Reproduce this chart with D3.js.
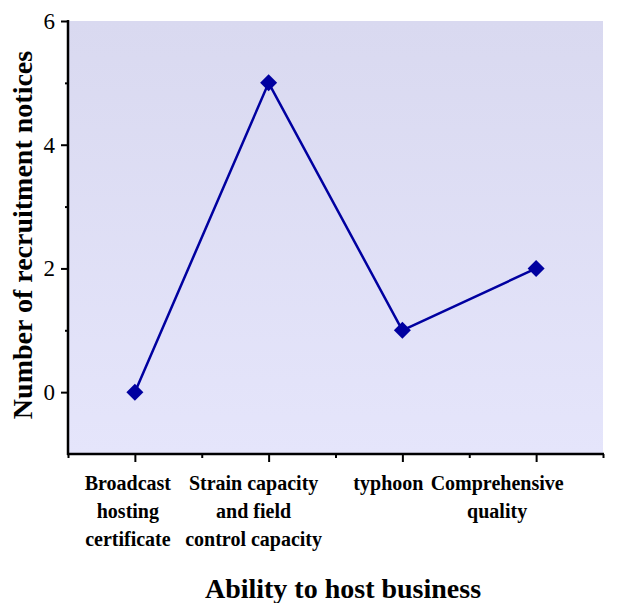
<!DOCTYPE html>
<html>
<head>
<meta charset="utf-8">
<script src="https://cdn.jsdelivr.net/npm/d3@7"></script>
<style>
  body { margin: 0; background: #fff; }
  text { font-family: "Liberation Serif", "Times New Roman", serif; }
</style>
</head>
<body>
<svg id="myChart" width="620" height="603"></svg>
<script>
// Chart data
const categories = [
	['Broadcast', 'hosting', 'certificate'],
	['Strain capacity', 'and field', 'control capacity'],
	['typhoon'],
	['Comprehensive', 'quality']
];
const values = [0, 5, 1, 2];
const yTicks = [0, 2, 4, 6];

const svg = d3.select('#myChart');

// Plot area
const plotLeft = 68, plotRight = 603, plotTop = 21, plotBottom = 454;

const xScale = d3.scaleLinear()
	.domain([0.5, 4.5])
	.range([plotLeft, plotRight]);

const yScale = d3.scaleLinear()
	.domain([-1, 6])
	.range([plotBottom, plotTop]);

// Background gradient
const grad = svg.append('defs').append('linearGradient')
	.attr('id', 'bg')
	.attr('x1', 0).attr('y1', 0).attr('x2', 0).attr('y2', 1);
grad.append('stop').attr('offset', '0%').attr('stop-color', '#d9d9f0');
grad.append('stop').attr('offset', '100%').attr('stop-color', '#e5e5fb');

svg.append('rect')
	.attr('x', plotLeft)
	.attr('y', plotTop)
	.attr('width', plotRight - plotLeft)
	.attr('height', plotBottom - plotTop)
	.attr('fill', 'url(#bg)');

// y axis - major ticks with labels, minor ones without
const yAxis = svg.append('g')
	.attr('class', 'axis axis-y')
	.attr('transform', `translate(${plotLeft},0)`)
	.call(d3.axisLeft(yScale).tickValues(yTicks).tickFormat(d3.format('d')).tickSize(7).tickPadding(6).tickSizeOuter(0));
yAxis.select('.domain').remove();
yAxis.selectAll('text').style('font-size', '23px').attr('fill', '#000');
yAxis.selectAll('line').attr('stroke-width', 2);

svg.append('g')
	.attr('transform', `translate(${plotLeft},0)`)
	.call(d3.axisLeft(yScale).tickValues([1, 3, 5]).tickSize(3).tickFormat('').tickSizeOuter(0))
	.call(g => g.select('.domain').remove())
	.selectAll('line').attr('stroke-width', 2);

// x axis
const xAxis = svg.append('g')
	.attr('class', 'axis axis-x')
	.attr('transform', `translate(0,${plotBottom})`)
	.call(d3.axisBottom(xScale).tickValues(d3.range(1, categories.length + 1)).tickSize(8).tickFormat('').tickSizeOuter(0));
xAxis.select('.domain').remove();
xAxis.selectAll('line').attr('stroke-width', 2);

svg.append('g')
	.attr('transform', `translate(0,${plotBottom})`)
	.call(d3.axisBottom(xScale).tickValues([0.5, 1.5, 2.5, 3.5, 4.5]).tickSize(4).tickFormat('').tickSizeOuter(0))
	.call(g => g.select('.domain').remove())
	.selectAll('line').attr('stroke-width', 2);

// Axis lines
svg.append('line')
	.attr('x1', plotLeft).attr('x2', plotLeft)
	.attr('y1', plotTop - 1).attr('y2', plotBottom + 1)
	.attr('stroke', '#000').attr('stroke-width', 2.5);
svg.append('line')
	.attr('x1', plotLeft - 1).attr('x2', plotRight + 1)
	.attr('y1', plotBottom).attr('y2', plotBottom)
	.attr('stroke', '#000').attr('stroke-width', 2.5);

// Category labels (a bit left of their ticks, as in the original)
const labelShift = [-7, -15, -14, -39];
svg.append('g')
	.selectAll('text')
	.data(categories)
	.join('text')
	.attr('x', (d, i) => xScale(i + 1) + labelShift[i])
	.attr('y', 490)
	.attr('text-anchor', 'middle')
	.style('font-size', '20px')
	.style('font-weight', 'bold')
	.selectAll('tspan')
	.data(d => d)
	.join('tspan')
	.attr('x', function () { return this.parentNode.getAttribute('x'); })
	.attr('dy', (d, i) => i === 0 ? 0 : 28)
	.text(d => d);

// Line
const line = d3.line()
	.x((d, i) => xScale(i + 1))
	.y(d => yScale(d));

svg.append('path')
	.datum(values)
	.attr('d', line)
	.attr('fill', 'none')
	.attr('stroke', '#0000a0')
	.attr('stroke-width', 2.5);

// Diamond markers
svg.append('g')
	.selectAll('path')
	.data(values)
	.join('path')
	.attr('d', d3.symbol(d3.symbolSquare, 144)())
	.attr('transform', (d, i) => `translate(${xScale(i + 1)},${yScale(d)}) rotate(45)`)
	.attr('fill', '#0000a0');

// Axis titles
svg.append('text')
	.attr('x', 343)
	.attr('y', 598)
	.attr('text-anchor', 'middle')
	.style('font-size', '28px')
	.style('font-weight', 'bold')
	.text('Ability to host business');

svg.append('text')
	.attr('transform', 'translate(32,235) rotate(-90)')
	.attr('text-anchor', 'middle')
	.style('font-size', '28px')
	.style('font-weight', 'bold')
	.text('Number of recruitment notices');
</script>
</body>
</html>
